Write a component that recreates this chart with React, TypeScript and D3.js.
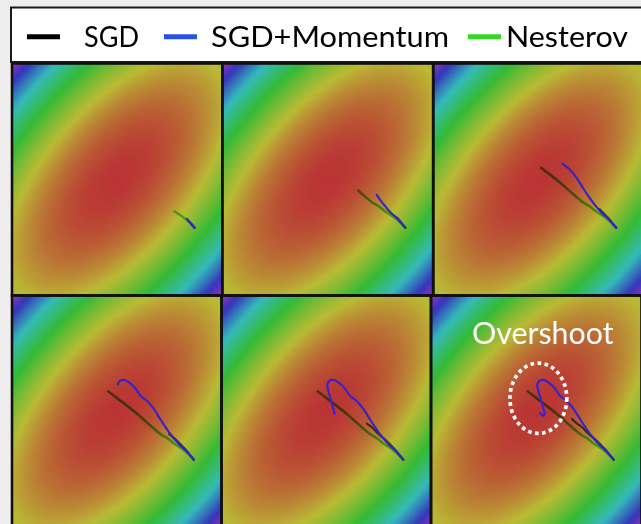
import React from 'react';
import * as d3 from 'd3';

const W = 641;
const H = 524;

// Optimizers in legend order
const optimizerNames = ['SGD', 'SGD+Momentum', 'Nesterov'];

// Parameter-space trajectories, x and y in [-1, 1] (y up), one point per recorded step
const sgdPath: [number, number][] = [
  [0.736, -0.416], [0.704, -0.38], [0.656, -0.328], [0.58, -0.256],
  [0.5, -0.196], [0.436, -0.136], [0.388, -0.104], [0.34, -0.064],
];
const momentumPath: [number, number][] = [
  [0.736, -0.416], [0.664, -0.34], [0.6, -0.288], [0.52, -0.204], [0.464, -0.132],
  [0.412, -0.06], [0.354, 0.022], [0.29, 0.09], [0.226, 0.136], [0.176, 0.2],
  [0.12, 0.248], [0.07, 0.272], [0.03, 0.264], [0.01, 0.232], [0.024, 0.164],
  [0.048, 0.088], [0.068, 0.02], [0.08, -0.02], [0.066, -0.036], [0.036, -0.012],
];
const nesterovPath: [number, number][] = [
  [0.736, -0.416], [0.656, -0.344], [0.546, -0.276], [0.48, -0.228], [0.42, -0.196],
  [0.29, -0.096], [0.2, -0.024], [0.112, 0.04], [0.024, 0.1], [-0.082, 0.174],
];

// Number of recorded steps shown in each of the six snapshots
const sgdSteps = [2, 3, 4, 5, 7, 8];
const momentumSteps = [2, 5, 9, 14, 18, 20];
const nesterovSteps = [3, 6, 9, 10, 10, 10];

// Loss surface: quadratic bowl, long axis along the x = y diagonal
const surfaceRadii = [2.98, 1.45]; // level-1 radius along long / short axis
const hueAtLevelOne = 300;

// Annotation in the last snapshot
const overshootLabel = 'Overshoot';
const overshootCenter: [number, number] = [0.02, 0.114];
const overshootRadii: [number, number] = [0.27, 0.303];
const overshootLabelAt: [number, number] = [0.062, 0.584];

const lineColors: Record<string, string> = {
  SGD: '#141414',
  'SGD+Momentum': '#3a24c4',
  Nesterov: '#62e046',
};
const legendColors: Record<string, string> = {
  SGD: '#000000',
  'SGD+Momentum': '#2a52e0',
  Nesterov: '#34d824',
};

// Panel grid edges (two rows, three columns)
const rowEdges = [63.5, 295.5, 527.5];
const colEdges = [
  [12, 222.3, 433.2, 644],
  [12, 221.5, 431, 641.5],
];

const FONT = "Lato, 'Open Sans', sans-serif";

const hueScale = d3.scaleLinear().domain([0, 1]).range([0, hueAtLevelOne]);
const lossColor = (level: number) => d3.hsl(hueScale(level), 0.563, 0.467).formatHex();

const stops = d3.range(0, 61).map((i) => {
  const r = i / 60; // radial offset, level grows as r^2
  return { offset: r, color: lossColor(r * r) };
});

const line = d3
  .line<[number, number]>()
  .curve(d3.curveCatmullRom.alpha(0.5));

export default function App() {
  const panels = d3.range(6).map((i) => {
    const row = Math.floor(i / 3);
    const col = i % 3;
    const x0 = colEdges[row][col];
    const x1 = colEdges[row][col + 1];
    const y0 = rowEdges[row];
    const y1 = rowEdges[row + 1];
    const sx = d3.scaleLinear().domain([-1, 1]).range([x0, x1]);
    const sy = d3.scaleLinear().domain([-1, 1]).range([y1, y0]);
    return { i, x0, x1, y0, y1, sx, sy };
  });

  const legendLayout = [
    { marker: [27, 60], text: 84, len: 55 },
    { marker: [164, 197], text: 211, len: 238 },
    { marker: [468, 501], text: 506, len: 122 },
  ];

  const gradT = `translate(0.5,0.5) rotate(-45) scale(${surfaceRadii[0] / 2},${surfaceRadii[1] / 2})`;

  return (
    <svg
      width={W}
      height={H}
      style={{ position: 'fixed', left: 0, top: 0, background: '#efeded' }}
    >
      <defs>
        <radialGradient
          id="loss"
          gradientUnits="objectBoundingBox"
          cx={0}
          cy={0}
          r={1}
          fx={0}
          fy={0}
          gradientTransform={gradT}
        >
          {stops.map((s, k) => (
            <stop key={k} offset={s.offset} stopColor={s.color} />
          ))}
        </radialGradient>
        <filter id="soft" x="-20%" y="-20%" width="140%" height="140%">
          <feGaussianBlur stdDeviation={0.45} />
        </filter>
      </defs>

      <rect width={W} height={H} fill="#efeded" />

      {/* legend */}
      <rect x={11} y={7.5} width={700} height={54.5} fill="#ffffff" stroke="#1a1a1a" strokeWidth={2} />
      {optimizerNames.map((name, k) => {
        const L = legendLayout[k];
        return (
          <g key={name}>
            <line
              x1={L.marker[0]}
              x2={L.marker[1]}
              y1={36.8}
              y2={36.8}
              stroke={legendColors[name]}
              strokeWidth={5}
            />
            <text
              x={L.text}
              y={47}
              fontFamily={FONT}
              fontSize={28.5}
              fill="#000"
              textLength={L.len}
              lengthAdjust="spacingAndGlyphs"
            >
              {name}
            </text>
          </g>
        );
      })}

      {/* snapshots */}
      {panels.map((p) => {
        const sgd = sgdPath.slice(0, sgdSteps[p.i]).map(([x, y]) => [p.sx(x), p.sy(y)] as [number, number]);
        const mom = momentumPath.slice(0, momentumSteps[p.i]).map(([x, y]) => [p.sx(x), p.sy(y)] as [number, number]);
        const nes = nesterovPath.slice(0, nesterovSteps[p.i]).map(([x, y]) => [p.sx(x), p.sy(y)] as [number, number]);
        return (
          <g key={p.i}>
            <rect x={p.x0} y={p.y0} width={p.x1 - p.x0} height={p.y1 - p.y0} fill="url(#loss)" />
            <path
              d={line(nes) || ''}
              fill="none"
              stroke={lineColors.Nesterov}
              strokeWidth={2.6}
              strokeLinecap="round"
              filter="url(#soft)"
              style={{ mixBlendMode: 'multiply' }}
            />
            <path
              d={line(sgd) || ''}
              fill="none"
              stroke={lineColors.SGD}
              strokeOpacity={0.75}
              strokeWidth={2.2}
              strokeLinecap="round"
              filter="url(#soft)"
            />
            <path
              d={line(mom) || ''}
              fill="none"
              stroke={lineColors['SGD+Momentum']}
              strokeWidth={2.2}
              strokeLinecap="round"
              filter="url(#soft)"
            />
            {p.i === 5 && (
              <g>
                <ellipse
                  cx={p.sx(overshootCenter[0])}
                  cy={p.sy(overshootCenter[1])}
                  rx={p.sx(overshootRadii[0]) - p.sx(0)}
                  ry={p.sy(0) - p.sy(overshootRadii[1])}
                  fill="none"
                  stroke="#ffffff"
                  strokeWidth={3.7}
                  strokeDasharray="3.7 3.4"
                />
                <text
                  x={p.sx(overshootLabelAt[0])}
                  y={p.sy(overshootLabelAt[1])}
                  textAnchor="middle"
                  fontFamily={FONT}
                  fontSize={30}
                  fill="#ffffff"
                  textLength={141.5}
                  lengthAdjust="spacingAndGlyphs"
                >
                  {overshootLabel}
                </text>
              </g>
            )}
          </g>
        );
      })}

      {/* panel frames */}
      {panels.map((p) => (
        <rect
          key={'f' + p.i}
          x={p.x0}
          y={p.y0}
          width={p.x1 - p.x0}
          height={p.y1 - p.y0}
          fill="none"
          stroke="#111111"
          strokeWidth={2.6}
        />
      ))}
    </svg>
  );
}
